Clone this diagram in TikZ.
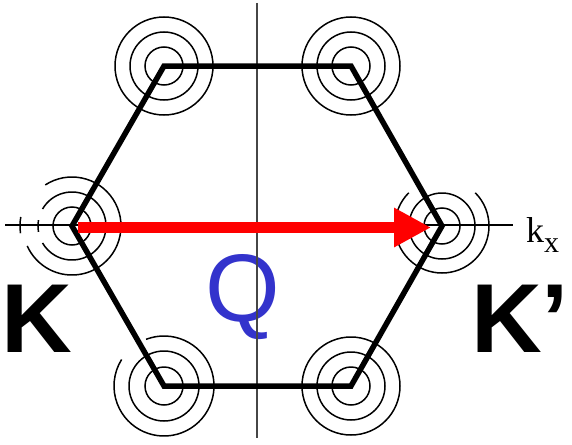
\documentclass[tikz,border=0pt]{standalone}
\usepackage{fontspec}
\setmainfont{Liberation Serif}
\newfontfamily\arialf{Liberation Sans}
\usetikzlibrary{arrows.meta}
\definecolor{qblue}{RGB}{51,51,204}
\definecolor{axgray}{RGB}{70,70,70}
\begin{document}
\begin{tikzpicture}[x=1pt,y=-1pt,
  ring/.style={line width=1.5pt},
  hexline/.style={line width=5.5pt,line join=miter},
  axisline/.style={line width=1.5pt},
  vaxis/.style={line width=2pt,draw=axgray},
  bigk/.style={font=\arialf\bfseries\fontsize{98}{98}\selectfont,inner sep=0pt,anchor=base west},
  qlabel/.style={font=\arialf\fontsize{96}{96}\selectfont,text=qblue,inner sep=0pt,anchor=base west},
  vec/.style={line width=11pt,draw=red,-{Triangle[length=37pt,width=37pt]}}]
\useasboundingbox (0,0) rectangle (572,444);
% vertices
\coordinate (L) at (72,226);
\coordinate (R) at (442,226);
\coordinate (TL) at (164,66);
\coordinate (TR) at (351,66);
\coordinate (BL) at (164,386);
\coordinate (BR) at (351,386);
% rings: full circles at top and bottom right
\foreach \c in {TL,TR,BR}{
  \draw[ring] (\c) circle (19) (\c) circle (34) (\c) circle (49);
}
% bottom-left
\draw[ring] (BL) circle (19) (BL) circle (35);
\draw[ring] (BL) ++(-111:50) arc[start angle=-111,end angle=212,radius=50];
% left vertex
\draw[ring] (L) circle (19);
\draw[ring] (L) ++(-150:34) arc[start angle=-150,end angle=150,radius=34];
\draw[ring] (L) ++(170:34) arc[start angle=170,end angle=190,radius=34];
\draw[ring] (L) ++(-123:49) arc[start angle=-123,end angle=156,radius=49];
\draw[ring] (L) ++(172:52) arc[start angle=172,end angle=190,radius=52];
% right vertex
\draw[ring] (R) circle (18) (R) circle (33);
\draw[ring] (R) ++(-45:47) arc[start angle=-45,end angle=225,radius=47];
% Q label (under the vertical axis)
\node[qlabel] (q) at (205,321) {Q};
% axes
\coordinate (vtop) at (257,3);
\coordinate (vbot) at (257,438);
\draw[vaxis] (vtop) -- (vbot);
\coordinate (hleft) at (5,225);
\coordinate (hright) at (513,225);
\draw[axisline] (hleft) -- (hright);
% hexagon
\draw[hexline] (L) -- (TL) -- (TR) -- (R) -- (BR) -- (BL) -- cycle;
% arrow
\coordinate (astart) at (78,227.5);
\coordinate (aend) at (431,227.5);
\draw[vec] (astart) -- (aend);
% labels
\node[font=\fontsize{36}{36}\selectfont,inner sep=0pt,anchor=base west] (kx) at (526,242) {k\raisebox{-10pt}{\fontsize{30}{30}\selectfont x}};
\node[bigk] (K) at (1,352) {K};
\node[bigk] (Kp) at (471,352) {K’};
\end{tikzpicture}
\end{document}
